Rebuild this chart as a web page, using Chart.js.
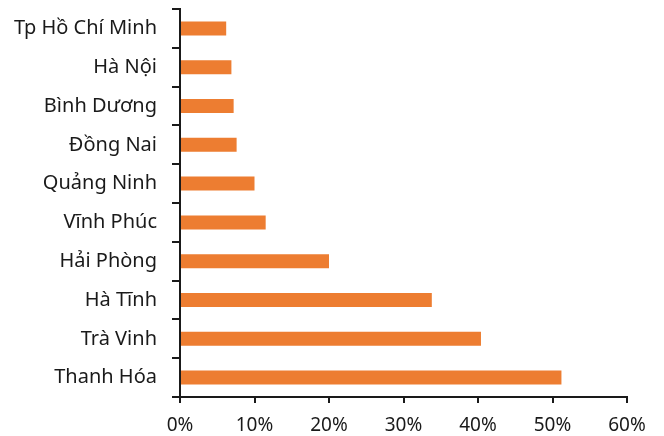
<!DOCTYPE html>
<html>
<head>
<meta charset="utf-8">
<script src="https://cdn.jsdelivr.net/npm/chart.js@4"></script>
<style>
  html, body { margin: 0; padding: 0; background: #fff; }
  #wrap { width: 664px; height: 436px; }
</style>
</head>
<body>
<div id="wrap"><canvas id="chart"></canvas></div>
<script>
// provinces, top to bottom
const provinces = [
  "Tp Hồ Chí Minh",
  "Hà Nội",
  "Bình Dương",
  "Đồng Nai",
  "Quảng Ninh",
  "Vĩnh Phúc",
  "Hải Phòng",
  "Hà Tĩnh",
  "Trà Vinh",
  "Thanh Hóa",
];
// share, in percent
const shares = [6.2, 6.9, 7.2, 7.6, 10.0, 11.5, 20.0, 33.8, 40.4, 51.2];
const xTicks = [0, 10, 20, 30, 40, 50, 60];

const BAR_COLOR = "#ED7D31";
const INK = "#1a1a1a";

Chart.defaults.font.family = "'Noto Sans'";
Chart.defaults.color = INK;

const config = {
  type: "bar",
  data: {
    labels: provinces,
    datasets: [
      {
        data: shares,
        backgroundColor: BAR_COLOR,
        borderWidth: 0,
        barPercentage: 0.72,
        categoryPercentage: 0.5,
      },
    ],
  },
  options: {
    indexAxis: "y",
    responsive: true,
    maintainAspectRatio: false,
    animation: false,
    layout: { padding: { top: 9, right: 37, left: 0, bottom: 0 } },
    plugins: { legend: { display: false }, tooltip: { enabled: false } },
    scales: {
      x: {
        min: 0,
        max: 60,
        afterBuildTicks: (scale) => {
          scale.ticks = xTicks.map((v) => ({ value: v }));
        },
        afterFit: (scale) => {
          scale.height = 39;
        },
        border: { display: true, color: INK, width: 2 },
        grid: {
          drawOnChartArea: false,
          drawTicks: true,
          tickLength: 6,
          color: INK,
          lineWidth: 2,
        },
        ticks: {
          font: { size: 19 },
          color: INK,
          padding: 11,
          maxRotation: 0,
          callback: (v) => v + "%",
        },
      },
      y: {
        afterFit: (scale) => {
          scale.width = 180;
          // category labels sit between ticks, no need for extra room
          scale.paddingTop = 0;
          scale.paddingBottom = 0;
        },
        border: { display: true, color: INK, width: 2 },
        grid: {
          offset: true,
          drawOnChartArea: false,
          drawTicks: true,
          tickLength: 8,
          color: INK,
          lineWidth: 2,
        },
        ticks: {
          font: { size: 20 },
          color: INK,
          padding: 15,
        },
      },
    },
  },
};

new Chart(document.getElementById("chart"), config);
</script>
</body>
</html>
